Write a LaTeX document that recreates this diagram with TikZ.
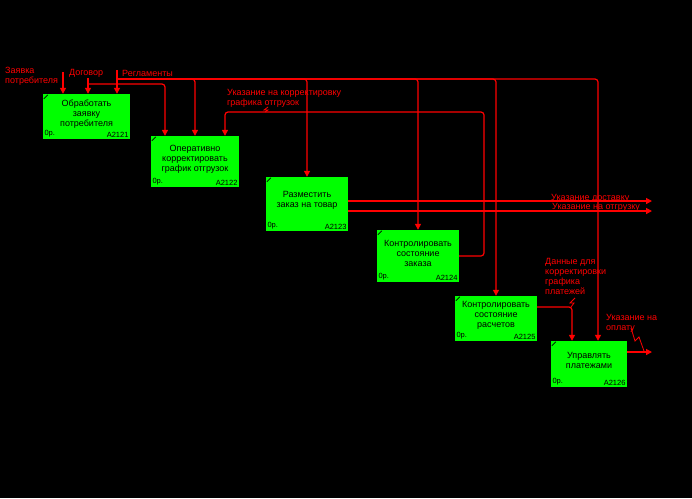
\documentclass[tikz,border=0pt]{standalone}
\usepackage{fontspec}
\setmainfont{Liberation Sans}
\usetikzlibrary{arrows.meta,positioning,calc}
\definecolor{idefred}{RGB}{255,0,0}
\definecolor{idefgreen}{RGB}{0,255,0}

\begin{document}
\begin{tikzpicture}[x=1pt,y=-1pt,
  box/.style={rectangle,fill=idefgreen,draw=none,inner sep=0pt},
  btxt/.style={align=center,text=black,font=\fontsize{9}{10}\selectfont,inner sep=0pt},
  num/.style={text=black,font=\fontsize{7.5}{8}\selectfont,inner sep=1.5pt},
  lbl/.style={align=left,text=idefred,font=\fontsize{9}{10}\selectfont,inner sep=0pt},
  flow/.style={draw=idefred,line width=1.2pt,rounded corners=3pt,-{Triangle[width=6pt,length=6pt]}},
  tether/.style={draw=idefred,line width=0.8pt}]
\useasboundingbox (0,0) rectangle (692,498);
\fill[black] (0,0) rectangle (692,498);

% activity boxes
\node at (86.5,116.5)[box,minimum width=87pt,minimum height=45pt](a2121){};
\node at (195,161.5)[box,minimum width=88pt,minimum height=51pt](a2122){};
\node at (307,204)[box,minimum width=82pt,minimum height=54pt](a2123){};
\node at (418,256)[box,minimum width=82pt,minimum height=52pt](a2124){};
\node at (496,318.5)[box,minimum width=82pt,minimum height=45pt](a2125){};
\node at (589,364)[box,minimum width=76pt,minimum height=46pt](a2126){};

\node at ($(a2121.center)+(0,-2)$)[btxt](t2121){Обработать\\заявку\\потребителя};
\node at ($(a2122.center)+(0,-2)$)[btxt](t2122){Оперативно\\корректировать\\график отгрузок};
\node at ($(a2123.center)+(0,-4)$)[btxt](t2123){Разместить\\заказ на товар};
\node at ($(a2124.center)+(0,-2.5)$)[btxt](t2124){Контролировать\\состояние\\заказа};
\node at ($(a2125.center)+(0,-3.5)$)[btxt](t2125){Контролировать\\состояние\\расчетов};
\node at ($(a2126.center)+(0,-4)$)[btxt](t2126){Управлять\\платежами};

\foreach \b in {2121,2122,2123,2124,2125,2126}{
  \node at (a\b.south west)[num,anchor=south west](c\b){0р.};
  \node at (a\b.south east)[num,anchor=south east](n\b){A\b};
  \draw[black,line width=0.6pt] ($(a\b.north west)+(1,5)$) -- ($(a\b.north west)+(5,1)$);
}

% labels
\node at (5,67.5)[lbl,anchor=north west](zayavka){Заявка\\потребителя};
\node at (69,73.5)[lbl,anchor=west](dogovor){Договор};
\node at (122,73.5)[lbl,anchor=west](reglam){Регламенты};
\node at (227,89.5)[lbl,anchor=north west](korr){Указание на корректировку\\графика отгрузок};
\node at (551,198)[lbl,anchor=west](dost){Указание доставку};
\node at (552,207)[lbl,anchor=west](otgr){Указание на отгрузку};
\node at (545,258.5)[lbl,anchor=north west](dannye){Данные для\\корректировки\\графика\\платежей};
\node at (606,314.5)[lbl,anchor=north west](oplata){Указание на\\оплату};

% free ends
\coordinate (zvin) at (63,72);
\coordinate (dogin) at (88,78);
\coordinate (dogbus) at (88,84);
\coordinate (regin) at (117,70);
\coordinate (regbus) at (117,79);
\coordinate (fbtop) at (484,112);
\coordinate (dostout) at (652,201);
\coordinate (otgrout) at (652,211);
\coordinate (platout) at (572,307);
\coordinate (oplout) at (652,352);

% inputs and controls
\draw[flow] (zvin) -- (zvin |- a2121.north);
\draw[flow] (dogin) -- (dogin |- a2121.north);
\draw[flow] (regin) -- (regin |- a2121.north);
\draw[flow] (dogbus) -| ([xshift=-30pt]a2122.north);
\draw[flow] (regbus) -| (a2122.north);
\draw[flow] (regbus) -| (a2123.north);
\draw[flow] (regbus) -| (a2124.north);
\draw[flow] (regbus) -| (a2125.north);
\draw[flow] (regbus) -| ([xshift=9pt]a2126.north);

% outputs
\draw[flow] (a2124.east) -| (fbtop) -| ([xshift=30pt]a2122.north);
\draw[flow] (a2123.east |- dostout) -- (dostout);
\draw[flow] (a2123.east |- otgrout) -- (otgrout);
\draw[flow] (a2125.east |- platout) -| ([xshift=-17pt]a2126.north);
\draw[flow] (a2126.east |- oplout) -- (oplout);

% label tethers
\draw[tether] (268,107) -- (264,110) -- (268,110) -- (265,112);
\draw[tether] (575,298) -- (570,303) -- (574,303) -- (571,307);
\draw[tether] (631,328) -- (635,341) -- (639,337) -- (644,351);
\end{tikzpicture}
\end{document}
